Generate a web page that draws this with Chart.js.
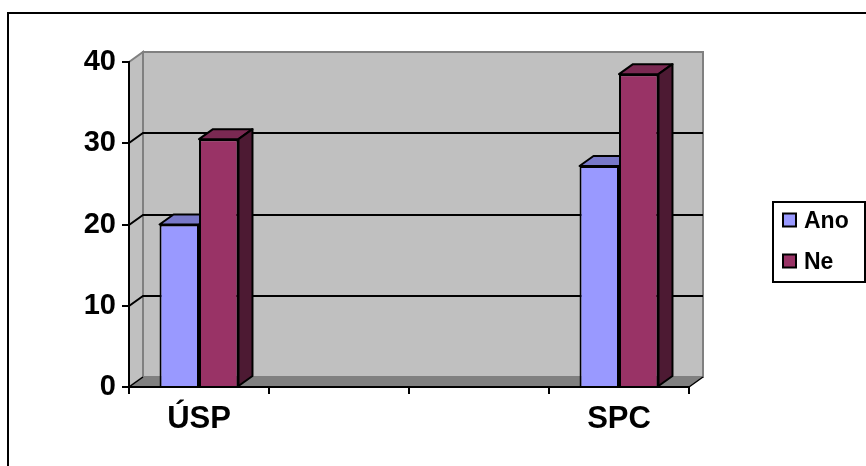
<!DOCTYPE html>
<html>
<head>
<meta charset="utf-8">
<script src="https://cdn.jsdelivr.net/npm/chart.js@4/dist/chart.umd.min.js"></script>
<style>
  html, body { margin: 0; padding: 0; background: #ffffff; }
  canvas { display: block; }
</style>
</head>
<body>
<canvas id="chart" width="866" height="466"></canvas>
<script>
// Categories along the floor (the two middle slots are empty)
const categories = ['ÚSP', '', '', 'SPC'];
// Series values
const anoValues = [20, null, null, 27.2];
const neValues = [30.5, null, null, 38.5];
// Value axis
const yMin = 0;
const yMax = 40;
const yStep = 10;

const FONT = "'Liberation Sans', Arial, sans-serif";
const DEPTH_X = 14;
const DEPTH_Y = -10;

const seriesStyle = [
  { label: 'Ano', front: '#9999ff', top: '#7878c8', side: '#4c4c99' },
  { label: 'Ne',  front: '#993366', top: '#7a2952', side: '#4d1a33' }
];

function poly(ctx, pts) {
  ctx.beginPath();
  ctx.moveTo(pts[0][0], pts[0][1]);
  for (let i = 1; i < pts.length; i++) ctx.lineTo(pts[i][0], pts[i][1]);
  ctx.closePath();
}

// Walls, floor, back gridlines, bar tops/sides and the boxed legend
const depthPlugin = {
  id: 'depth3d',
  beforeDraw(chart) {
    const ctx = chart.ctx;
    const a = chart.chartArea;
    const ys = chart.scales.y;
    const L = a.left, R = a.right, T = ys.getPixelForValue(yMax), B = ys.getPixelForValue(yMin);
    ctx.save();
    ctx.fillStyle = '#ffffff';
    ctx.fillRect(0, 0, chart.width, chart.height);

    // outer frame
    ctx.strokeStyle = '#000000';
    ctx.lineWidth = 2;
    ctx.strokeRect(8, 13, 1000, 1000);

    // side wall
    poly(ctx, [[L, T], [L + DEPTH_X, T + DEPTH_Y], [L + DEPTH_X, B + DEPTH_Y], [L, B]]);
    ctx.fillStyle = '#c0c0c0';
    ctx.fill();
    ctx.strokeStyle = '#808080';
    ctx.lineWidth = 2;
    ctx.stroke();

    // back wall
    ctx.fillStyle = '#c0c0c0';
    ctx.fillRect(L + DEPTH_X, T + DEPTH_Y, R - L, B - T);
    ctx.strokeRect(L + DEPTH_X, T + DEPTH_Y, R - L, B - T);

    // floor
    poly(ctx, [[L, B], [R, B], [R + DEPTH_X, B + DEPTH_Y], [L + DEPTH_X, B + DEPTH_Y]]);
    ctx.fillStyle = '#808080';
    ctx.fill();
    ctx.strokeStyle = '#000000';
    ctx.lineWidth = 1.5;
    ctx.beginPath();
    ctx.moveTo(R, B);
    ctx.lineTo(R + DEPTH_X, B + DEPTH_Y);
    ctx.moveTo(L, B);
    ctx.lineTo(L + DEPTH_X, B + DEPTH_Y);
    ctx.stroke();

    // gridlines on side and back walls
    ctx.strokeStyle = '#000000';
    ctx.lineWidth = 2;
    for (let v = yMin + yStep; v < yMax; v += yStep) {
      const y = Math.round(ys.getPixelForValue(v));
      ctx.beginPath();
      ctx.moveTo(L, y);
      ctx.lineTo(L + DEPTH_X, y + DEPTH_Y);
      ctx.lineTo(R + DEPTH_X, y + DEPTH_Y);
      ctx.stroke();
    }
    ctx.restore();
  },
  beforeDatasetsDraw(chart) {
    const ctx = chart.ctx;
    ctx.save();
    ctx.strokeStyle = '#000000';
    ctx.lineWidth = 2;
    ctx.lineJoin = 'round';
    chart.data.datasets.forEach((ds, di) => {
      const meta = chart.getDatasetMeta(di);
      const st = seriesStyle[di];
      meta.data.forEach((bar, i) => {
        if (ds.data[i] === null || ds.data[i] === undefined) return;
        const p = bar.getProps(['x', 'y', 'base', 'width'], true);
        const l = p.x - p.width / 2, r = p.x + p.width / 2, t = p.y, b = p.base;
        // top face
        poly(ctx, [[l, t], [r, t], [r + DEPTH_X, t + DEPTH_Y], [l + DEPTH_X, t + DEPTH_Y]]);
        ctx.fillStyle = st.top;
        ctx.fill();
        ctx.stroke();
        // right side face
        poly(ctx, [[r, t], [r + DEPTH_X, t + DEPTH_Y], [r + DEPTH_X, b + DEPTH_Y], [r, b]]);
        ctx.fillStyle = st.side;
        ctx.fill();
        ctx.stroke();
      });
    });
    ctx.restore();
  },
  afterDraw(chart) {
    const ctx = chart.ctx;
    ctx.save();
    const bx = 773, by = 202, bw = 92, bh = 80;
    ctx.fillStyle = '#ffffff';
    ctx.fillRect(bx, by, bw, bh);
    ctx.strokeStyle = '#000000';
    ctx.lineWidth = 2;
    ctx.strokeRect(bx, by, bw, bh);
    ctx.font = 'bold 23px ' + FONT;
    ctx.textBaseline = 'middle';
    ctx.textAlign = 'left';
    chart.data.datasets.forEach((ds, di) => {
      const cy = 220 + di * 41;
      ctx.fillStyle = seriesStyle[di].front;
      ctx.fillRect(783, cy - 6.5, 13, 13);
      ctx.lineWidth = 2;
      ctx.strokeRect(783, cy - 6.5, 13, 13);
      ctx.fillStyle = '#000000';
      ctx.fillText(ds.label, 804, cy + 2);
    });
    ctx.restore();
  }
};

new Chart(document.getElementById('chart'), {
  type: 'bar',
  data: {
    labels: categories,
    datasets: [
      { label: seriesStyle[0].label, data: anoValues, backgroundColor: seriesStyle[0].front },
      { label: seriesStyle[1].label, data: neValues, backgroundColor: seriesStyle[1].front }
    ]
  },
  options: {
    responsive: false,
    animation: false,
    devicePixelRatio: 1,
    layout: { padding: { top: 62, right: 177, bottom: 0, left: 0 } },
    datasets: {
      bar: {
        borderColor: '#000000',
        borderWidth: 2,
        borderSkipped: 'start',
        categoryPercentage: 0.564,
        barPercentage: 1
      }
    },
    plugins: {
      legend: { display: false },
      title: { display: false },
      tooltip: { enabled: false }
    },
    scales: {
      x: {
        z: 1,
        afterFit(scale) { scale.height = 79; },
        grid: {
          offset: true,
          drawOnChartArea: false,
          drawTicks: true,
          tickLength: 7,
          color: '#000000',
          lineWidth: 2
        },
        border: { display: true, color: '#000000', width: 2 },
        ticks: {
          color: '#000000',
          font: { family: FONT, size: 31, weight: 'bold' },
          padding: 7,
          maxRotation: 0,
          autoSkip: false
        }
      },
      y: {
        min: yMin,
        max: yMax,
        afterFit(scale) { scale.width = 129; },
        grid: {
          drawOnChartArea: false,
          drawTicks: true,
          tickLength: 7,
          color: '#000000',
          lineWidth: 2
        },
        border: { display: true, color: '#000000', width: 2 },
        ticks: {
          stepSize: yStep,
          color: '#000000',
          font: { family: FONT, size: 29, weight: 'bold' },
          padding: 6
        }
      }
    }
  },
  plugins: [depthPlugin]
});
</script>
</body>
</html>
